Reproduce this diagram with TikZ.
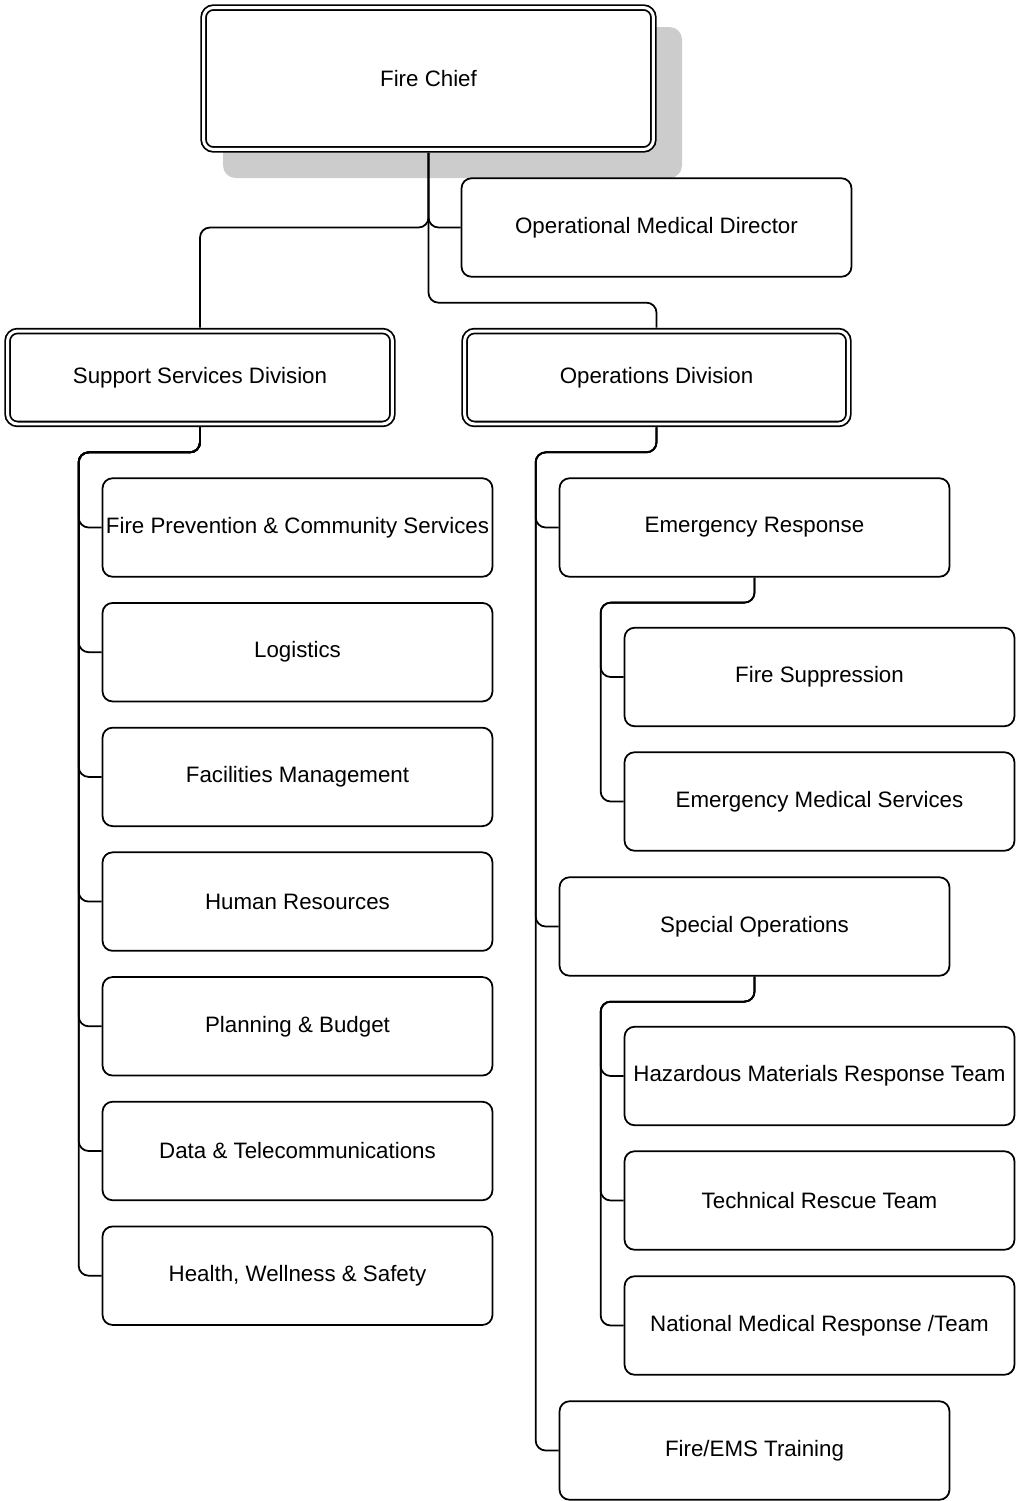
\documentclass[tikz,border=0pt]{standalone}
\usepackage{fontspec}
\setmainfont{Liberation Sans}
\usetikzlibrary{positioning,calc}

\tikzset{
  unit/.style={draw, line width=1pt, rounded corners=0.2cm, fill=white,
    minimum width=7.8cm, minimum height=1.97cm, inner sep=0pt, align=center},
  division/.style={unit, double=white, double distance=1.7pt, outer sep=1.9pt},
  link/.style={line width=1pt, rounded corners=0.2cm},
}

\begin{document}
\begin{tikzpicture}[x=0.02cm, y=-0.02cm, font=\fontsize{12.7}{15}\selectfont]
  \useasboundingbox (0,0) rectangle (1016,1501);

  % ---- top levels ----
  % shadow behind the chief box
  \fill[black!20, rounded corners=0.25cm] (223,27) rectangle (682,178);
  \node[division, minimum width=9.0cm, minimum height=2.84cm]
    (chief) at (428.5,78.5) {Fire Chief};
  \node[unit] (omd) at (656.5,227.5) {Operational Medical Director};
  \node[division, minimum width=7.7cm, minimum height=1.86cm]
    (support) at (200,377.5) {Support Services Division};
  \node[division, minimum width=7.68cm, minimum height=1.86cm]
    (ops) at (656.5,377.5) {Operations Division};

  \draw[link] (chief.south) |- (omd.west);
  \draw[link] (chief.south) -- (chief.south |- omd.west) -| (support.north);
  \draw[link] (chief.south) |- ([yshift=0.5cm]ops.north) -- (ops.north);

  % ---- support services units ----
  \foreach \i/\lab in {1/Fire Prevention \& Community Services, 2/Logistics,
                       3/Facilities Management, 4/Human Resources,
                       5/Planning \& Budget, 6/Data \& Telecommunications,
                       7/{Health, Wellness \& Safety}} {
    \pgfmathsetmacro{\yc}{527.5 + (\i-1)*124.7}
    \node[unit] (s\i) at (297.5,\yc) {\lab};
    \draw[link] (support.south) -- ++(0,25) -| ([xshift=-0.46cm]s\i.west) -- (s\i.west);
  }

  % ---- operations units ----
  \node[unit] (er) at (754.5,527.5) {Emergency Response};
  \node[unit] (fs) at (819.5,677) {Fire Suppression};
  \node[unit] (ems) at (819.5,801.5) {Emergency Medical Services};
  \node[unit] (specops) at (754.5,926.5) {Special Operations};
  \node[unit] (hazmat) at (819.5,1076) {Hazardous Materials Response Team};
  \node[unit] (rescue) at (819.5,1200.5) {Technical Rescue Team};
  \node[unit] (nmrt) at (819.5,1325.5) {National Medical Response /Team};
  \node[unit] (training) at (754.5,1450.5) {Fire/EMS Training};

  \foreach \n in {er, specops, training}
    \draw[link] (ops.south) -- ++(0,25) -| ([xshift=-0.46cm]\n.west) -- (\n.west);
  \foreach \n in {fs, ems}
    \draw[link] (er.south) -- ++(0,25) -| ([xshift=-0.46cm]\n.west) -- (\n.west);
  \foreach \n in {hazmat, rescue, nmrt}
    \draw[link] (specops.south) -- ++(0,25) -| ([xshift=-0.46cm]\n.west) -- (\n.west);

\end{tikzpicture}
\end{document}
